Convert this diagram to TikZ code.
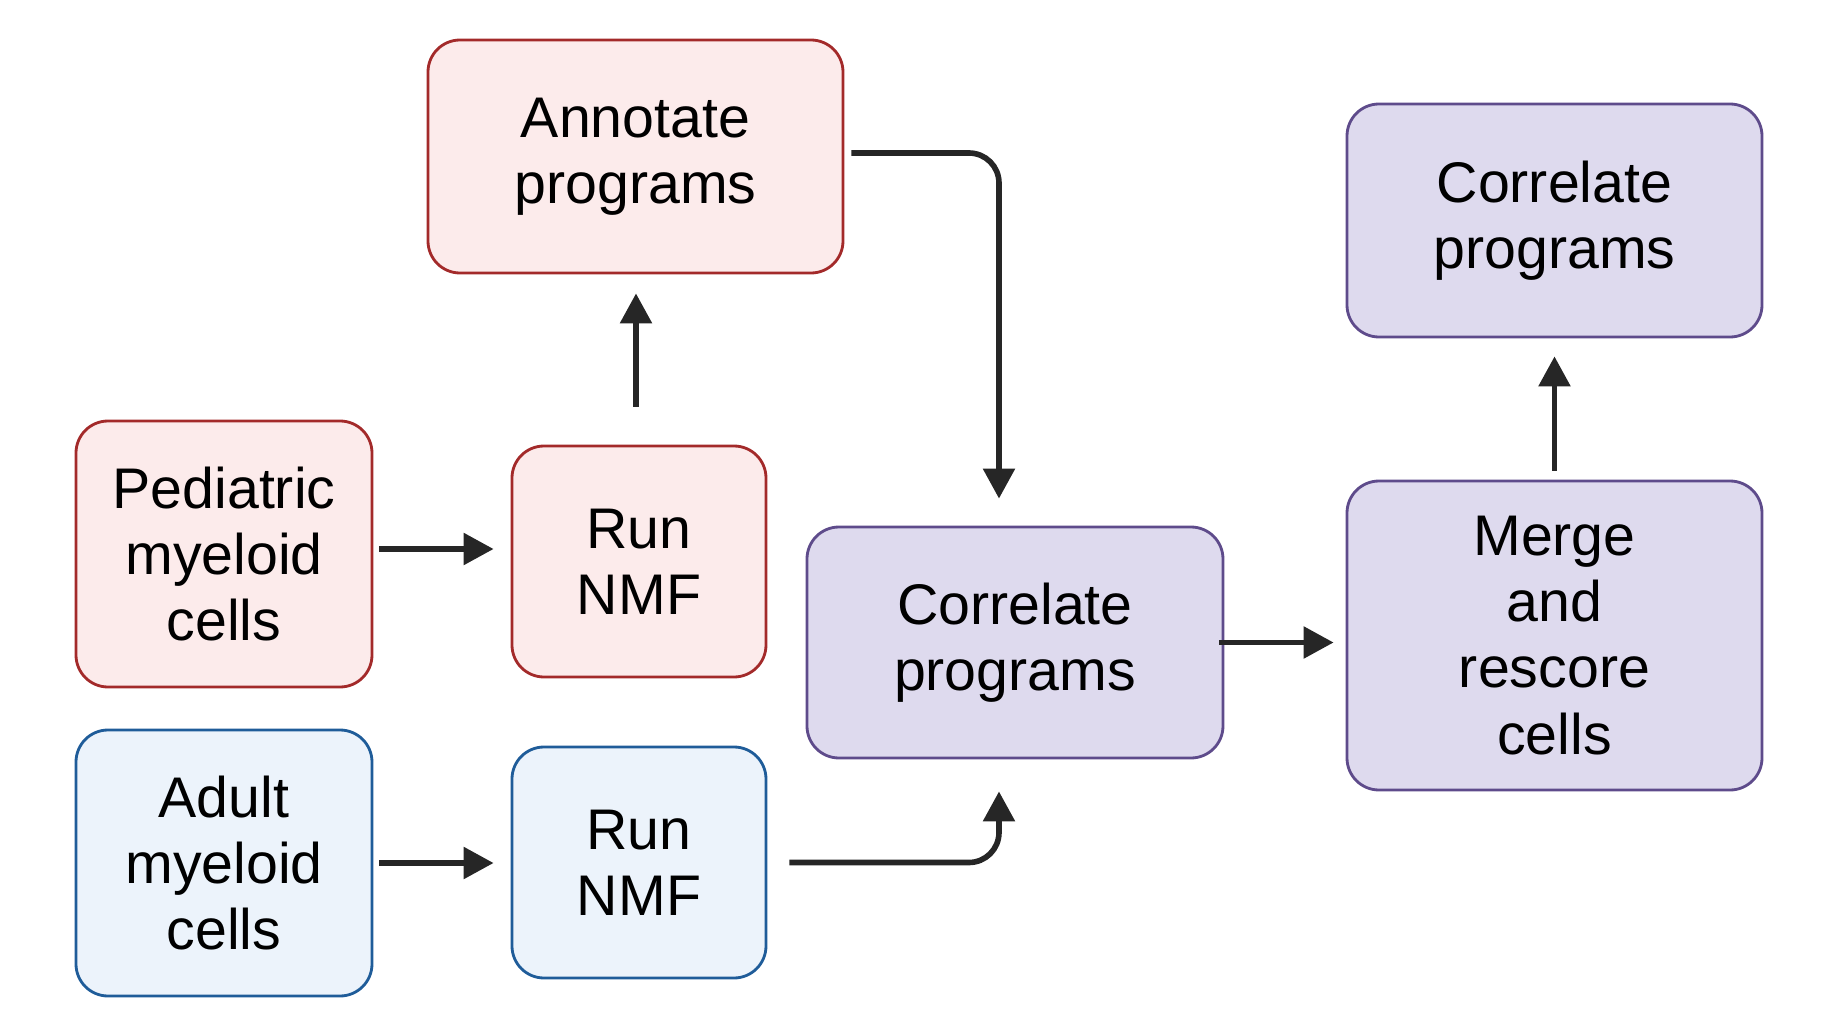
\documentclass[tikz,border=0pt]{standalone}
\usepackage{fontspec}
\setmainfont{Liberation Sans}
\usepackage{tikz}
\usetikzlibrary{positioning, arrows.meta, calc}
\definecolor{redfill}{HTML}{FCEBEB}
\definecolor{redline}{HTML}{A32A2A}
\definecolor{bluefill}{HTML}{ECF3FB}
\definecolor{blueline}{HTML}{1F5C99}
\definecolor{purplefill}{HTML}{DEDAEE}
\definecolor{purpleline}{HTML}{5E4B8B}
\definecolor{arrowgray}{HTML}{262626}
\tikzset{
  >={Triangle[length=3mm, width=3.1mm]},
  box/.style={draw, line width=0.8pt, rounded corners=3.2mm, inner sep=0pt, align=center,
    font=\fontsize{16.3}{18.8}\selectfont},
  redbox/.style={box, draw=redline, fill=redfill},
  bluebox/.style={box, draw=blueline, fill=bluefill},
  purplebox/.style={box, draw=purpleline, fill=purplefill},
  flow/.style={->, draw=arrowgray, line width=1.6pt, rounded corners=3mm},
}

\begin{document}
\begin{tikzpicture}
      \useasboundingbox (0,0) rectangle (18.26,10.35);
      \node[redbox, minimum width=2.96cm, minimum height=2.66cm] (ped) at (2.24,4.81) {Pediatric\\myeloid\\cells};
      \node[bluebox, minimum width=2.96cm, minimum height=2.66cm] (adult) at (2.24,1.72) {Adult\\myeloid\\cells};
      \node[redbox, minimum width=2.54cm, minimum height=2.31cm] (runA) at (6.39,4.735) {Run\\NMF};
      \node[bluebox, minimum width=2.54cm, minimum height=2.31cm] (runB) at (6.39,1.725) {Run\\NMF};
      \node[redbox, minimum width=4.15cm, minimum height=2.33cm] (annot) at (6.355,8.785) {Annotate\\programs};
      \node[purplebox, minimum width=4.16cm, minimum height=2.31cm] (corr) at (10.15,3.925) {Correlate\\programs};
      \node[purplebox, minimum width=4.15cm, minimum height=3.09cm] (merge) at (15.545,3.995) {Merge\\and\\rescore\\cells};
      \node[purplebox, minimum width=4.15cm, minimum height=2.33cm] (corr2) at (15.545,8.145) {Correlate\\programs};

      \draw[flow, shorten <=0.6mm, shorten >=1.7mm] ([yshift=0.5mm]ped.east) -- ([yshift=0.5mm]ped.east -| runA.west);
      \draw[flow, shorten <=0.6mm, shorten >=1.7mm] (adult.east) -- (adult.east -| runB.west);
      \draw[flow, shorten <=3.8mm, shorten >=1.9mm] ([xshift=-0.3mm]runA.north) -- ([xshift=-0.3mm]runA.north |- annot.south);
      \draw[flow, shorten <=0.7mm, shorten >=2.7mm] ([yshift=0.35mm]annot.east) -| ([xshift=-1.6mm]corr.north);
      \draw[flow, shorten <=2.2mm, shorten >=3.2mm] (runB.east) -| ([xshift=-1.6mm]corr.south);
      \draw[flow, shorten >=1.2mm] ([xshift=-0.5mm]corr.east) -- (corr.east -| merge.west);
      \draw[flow, shorten <=0.9mm, shorten >=1.8mm] (merge.north) -- (corr2.south);
    \end{tikzpicture}
\end{document}
